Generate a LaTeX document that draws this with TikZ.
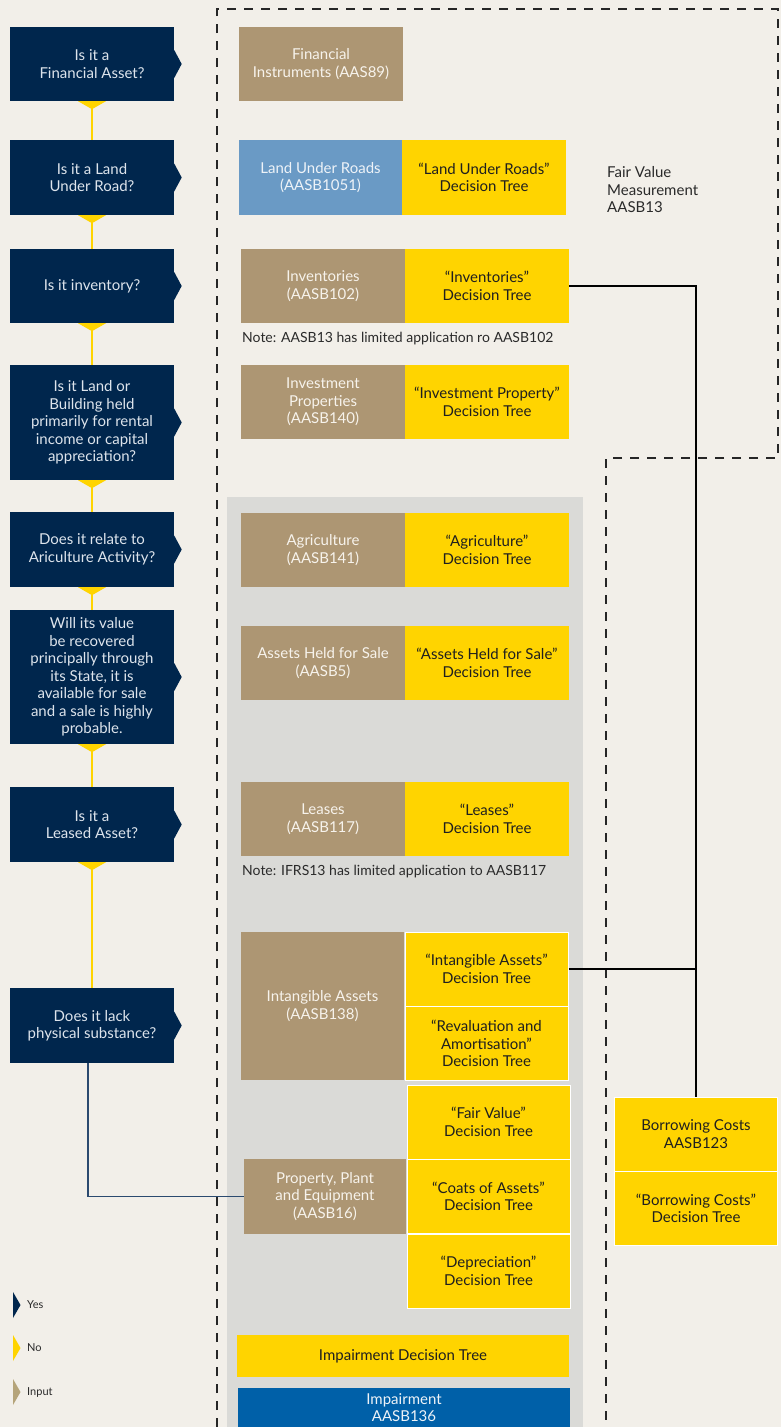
\documentclass[tikz,border=0pt]{standalone}
\usepackage{fontspec}
\setmainfont{Lato}
\definecolor{bg}{HTML}{F2EFE9}
\definecolor{navy}{HTML}{00264D}
\definecolor{tanc}{HTML}{AD9673}
\definecolor{yel}{HTML}{FFD400}
\definecolor{lblue}{HTML}{6A9AC5}
\definecolor{dblue}{HTML}{0060A8}
\definecolor{greyreg}{HTML}{DADAD7}
\definecolor{navytext}{HTML}{DDE4EC}
\definecolor{tantext}{HTML}{F7F3EC}
\definecolor{dttext}{HTML}{1F1F1F}
\definecolor{bluetext}{HTML}{EEF3F8}
\definecolor{navyline}{HTML}{2B4A6F}
\definecolor{legtan}{HTML}{B5A47A}
\definecolor{darktext}{HTML}{2A2A2A}
\begin{document}
\begin{tikzpicture}[x=1pt,y=-1pt,
  box/.style={rectangle, inner sep=0pt, align=center, font=\fontsize{15}{17.5}\selectfont},
  qbox/.style={box, fill=navy, text=navytext, minimum width=164, minimum height=75},
  inp/.style={box, fill=tanc, text=tantext, minimum width=164, minimum height=74},
  dt/.style={box, fill=yel, text=dttext, minimum width=164, minimum height=74},
  dtb/.style={dt, draw=white, line width=1},
  yline/.style={draw=yel, line width=1.5},
  blk/.style={draw=black, line width=2.2},
  nline/.style={draw=navyline, line width=1.3},
  dashline/.style={draw=black!85, line width=1.3, dash pattern=on 9pt off 8pt},
  note/.style={anchor=west, inner sep=0pt, text=darktext, font=\fontsize{14}{16}\selectfont},
  legend/.style={anchor=west, inner sep=0pt, text=darktext, font=\fontsize{11}{13}\selectfont}
]
\fill[bg] (0,0) rectangle (781,1427);
\useasboundingbox (0,0) rectangle (781,1427);
% grey region
\fill[greyreg] (227,497) rectangle (583,1427);
% dashed fair value outline
\draw[dashline] (217,1427) -- (217,9) -- (778,9) -- (778,458) -- (606,458) -- (606,1427);

% questions
\node[qbox, minimum height=74] (q1) at (92,64) {Is it a\\Financial Asset?};
\node[qbox] (q2) at (92,177.5) {Is it a Land\\Under Road?};
\node[qbox, minimum height=74] (q3) at (92,286) {Is it inventory?};
\node[qbox, minimum height=115] (q4) at (92,422.5) {Is it Land or\\Building held\\primarily for rental\\income or capital\\appreciation?};
\node[qbox] (q5) at (92,549.5) {Does it relate to\\Ariculture Activity?};
\node[qbox, minimum height=134] (q6) at (92,677) {Will its value\\be recovered\\principally through\\its State, it is\\available for sale\\and a sale is highly\\probable.};
\node[qbox] (q7) at (92,824.5) {Is it a\\Leased Asset?};
\node[qbox] (q8) at (92,1025.5) {Does it lack\\physical substance?};

% yes/no connectors
\foreach \a/\b in {q1/q2,q2/q3,q3/q4,q4/q5,q5/q6,q6/q7,q7/q8}{
  \draw[yline] (\a.south) -- (\b.north);
  \fill[yel] ([xshift=-14pt]\a.south) -- ([xshift=14pt]\a.south) -- ([yshift=-8pt]\a.south) -- cycle;
}
\foreach \n in {q1,q2,q3,q4,q5,q6,q7,q8}{
  \fill[navy] ([yshift=14pt]\n.east) -- ([xshift=7.5pt]\n.east) -- ([yshift=-14pt]\n.east) -- cycle;
}

% right column
\node[inp] (fi) at (321,64) {Financial\\Instruments (AAS89)};
\node[box, fill=lblue, text=bluetext, minimum width=163, minimum height=75] (lur) at (320.5,177.5) {Land Under Roads\\(AASB1051)};
\node[dt, minimum height=75] (lurdt) at (484,177.5) {“Land Under Roads”\\Decision Tree};
\node[inp] (inv) at (323,286) {Inventories\\(AASB102)};
\node[dt] (invdt) at (487,286) {“Inventories”\\Decision Tree};
\node[note] (n1) at (242,339) {Note: AASB13 has limited application ro AASB102};
\node[inp] (ip) at (323,402) {Investment\\Properties\\(AASB140)};
\node[dt] (ipdt) at (487,402) {“Investment Property”\\Decision Tree};
\node[inp] (agr) at (323,550) {Agriculture\\(AASB141)};
\node[dt] (agrdt) at (487,550) {“Agriculture”\\Decision Tree};
\node[inp] (ahs) at (323,663) {Assets Held for Sale\\(AASB5)};
\node[dt] (ahsdt) at (487,663) {“Assets Held for Sale”\\Decision Tree};
\node[inp] (lea) at (323,819) {Leases\\(AASB117)};
\node[dt] (leadt) at (487,819) {“Leases”\\Decision Tree};
\node[note] (n2) at (242,872) {Note: IFRS13 has limited application to AASB117};

\node[inp, minimum width=163, minimum height=148] (ia) at (322.5,1006) {Intangible Assets\\(AASB138)};
\node[dtb, minimum width=163] (iadt) at (486.5,969) {“Intangible Assets”\\Decision Tree};
\node[dtb, minimum width=163] (radt) at (486.5,1043.5) {“Revaluation and\\Amortisation”\\Decision Tree};

\node[dtb, minimum width=163] (fvdt) at (488.5,1122) {“Fair Value”\\Decision Tree};
\node[dtb, minimum width=163] (cadt) at (488.5,1196.5) {“Coats of Assets”\\Decision Tree};
\node[dtb, minimum width=163] (depdt) at (488.5,1271) {“Depreciation”\\Decision Tree};
\node[inp, minimum width=162, minimum height=75] (ppe) at (325,1196.5) {Property, Plant\\and Equipment\\(AASB16)};

\node[dt, minimum width=332, minimum height=42] (imp) at (403,1356) {Impairment Decision Tree};
\node[box, fill=dblue, text=bluetext, minimum width=332, minimum height=39] (impb) at (404,1407.5) {Impairment\\AASB136};

\node[dtb, minimum width=163] (bc) at (696,1134) {Borrowing Costs\\AASB123};
\node[dtb, minimum width=163] (bcdt) at (696,1208.5) {“Borrowing Costs”\\Decision Tree};

\node[anchor=west, inner sep=0pt, align=left, text=darktext, font=\fontsize{15}{17.5}\selectfont] (fvm) at (607,190) {Fair Value\\Measurement\\AASB13};

% connectors
\draw[blk] (invdt.east) -| (bc.north);
\draw[blk] (iadt.east) -- (iadt.east -| bc.north);
\draw[nline] ([xshift=-4pt]q8.south) |- (ppe.west);

% legend
\fill[navy] (13,1292) -- (20.5,1305) -- (13,1318) -- cycle;
\node[legend] (ly) at (27,1305) {Yes};
\fill[yel] (13,1335) -- (20.5,1348) -- (13,1361) -- cycle;
\node[legend] (ln) at (27,1348) {No};
\fill[legtan] (13,1379) -- (20.5,1392) -- (13,1405) -- cycle;
\node[legend] (li) at (27,1392) {Input};
\end{tikzpicture}
\end{document}
